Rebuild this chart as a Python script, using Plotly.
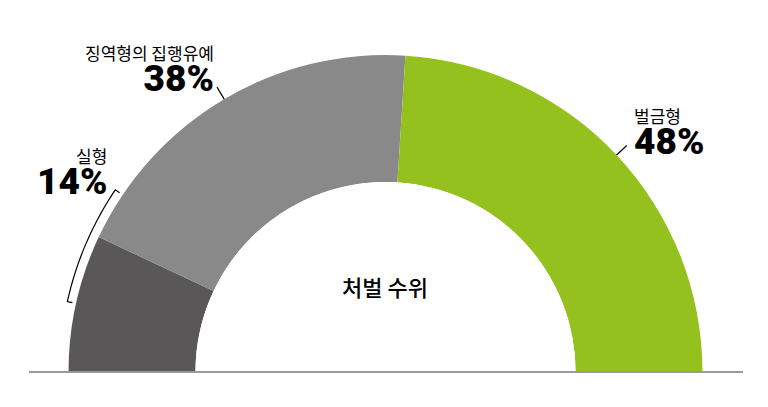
import plotly.graph_objects as go

# data
labels = ["실형", "징역형의 집행유예", "벌금형"]
values = [14, 38, 48]
colors = ["#595757", "#898989", "#95c11f"]
center_text = "처벌 수위"

# the page puts the figure 8px in from the top-left corner
OFF = 8
W, H = 768 - OFF, 407 - OFF


def px(x):
    return (x - OFF) / W


def py(y):
    return 1 - (y - OFF) / H


# angles of each slice across the half circle (0 = left, 180 = right)
total = sum(values)
widths = [v / total * 180 for v in values]
centers = []
acc = 0
for w in widths:
    centers.append(acc + w / 2)
    acc += w

fig = go.Figure()

fig.add_trace(go.Barpolar(
    r=[1] * len(values), theta=centers, width=widths, base=0,
    marker=dict(color=colors, line=dict(width=0)),
    hoverinfo="skip", showlegend=False,
))

# radial leader lines for 38% and 48%
for i in [1, 2]:
    fig.add_trace(go.Scatterpolar(
        r=[1.0, 1.11], theta=[centers[i], centers[i]], mode="lines",
        line=dict(color="black", width=1.2), hoverinfo="skip", showlegend=False,
    ))

# bracket beside the 14% label
br_theta = [12.5 + k * (34 - 12.5) / 30 for k in range(31)]
fig.add_trace(go.Scatterpolar(
    r=[1.03] + [1.07] * 31 + [1.03],
    theta=[br_theta[0]] + br_theta + [br_theta[-1]],
    mode="lines", line=dict(color="black", width=1.2),
    hoverinfo="skip", showlegend=False,
))

cx, cy, R = 385.5, 372, 332.2
fig.update_layout(
    width=W, height=H, template="none",
    margin=dict(l=0, r=0, t=0, b=0),
    paper_bgcolor="white",
    polar=dict(
        domain=dict(x=[px(cx - R), px(cx + R)], y=[py(cy), py(cy - R)]),
        sector=[0, 180], hole=0.572, bgcolor="white",
        radialaxis=dict(visible=False, range=[0, 1.12]),
        angularaxis=dict(visible=False, rotation=180, direction="clockwise"),
    ),
    showlegend=False,
)

fig.add_shape(type="line", xref="paper", yref="paper",
              x0=px(29), x1=px(743), y0=py(372), y1=py(372),
              line=dict(color="#9a9a9a", width=2))

kfont = "Noto Sans CJK KR"
pct_style = "font-size:37px;font-family:Roboto;font-weight:900"


def note(i, x, y, xanchor):
    # label on top, big percentage below, in one text block
    text = (f"<span style='font-size:17px'>{labels[i]}</span><br>"
            f"<span style='{pct_style}'>{values[i]}%</span>")
    fig.add_annotation(text=text, x=px(x), y=py(y), xref="paper", yref="paper",
                       xanchor=xanchor, yanchor="middle", align=xanchor,
                       showarrow=False,
                       font=dict(family=kfont, size=24, color="black"))


fig.add_annotation(text=center_text, x=px(385), y=py(304), xref="paper", yref="paper",
                   showarrow=False,
                   font=dict(family=kfont, size=22, color="black", weight=500))
note(1, 216, 70, "right")
note(0, 109, 173, "right")
note(2, 632, 133, "left")

fig.write_html("out.html")
